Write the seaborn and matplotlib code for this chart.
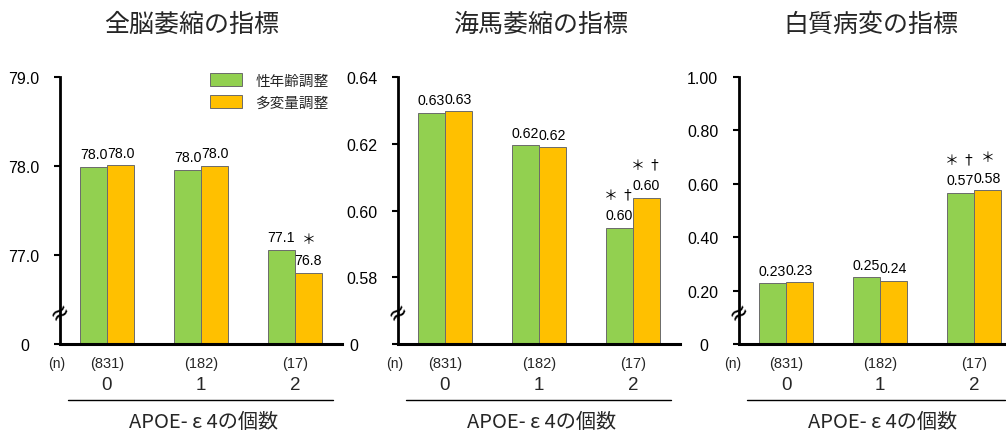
import matplotlib
matplotlib.use("Agg")
import matplotlib.pyplot as plt
import seaborn as sns
import pandas as pd
from matplotlib.lines import Line2D

sns.set_style("white")
plt.rcParams['font.family'] = ['Liberation Sans', 'Noto Sans CJK JP', 'DejaVu Sans']

# ---------------- data ----------------
groups = ["0", "1", "2"]
n_labels = ["(831)", "(182)", "(17)"]
series = ["性年齢調整", "多変量調整"]
titles = ["全脳萎縮の指標", "海馬萎縮の指標", "白質病変の指標"]
xlabel = "APOE- ε 4の個数"

brain_sex_age = [77.99, 77.96, 77.06]
brain_multi = [78.01, 78.00, 76.80]
brain_lbl_sex_age = ["78.0", "78.0", "77.1"]
brain_lbl_multi = ["78.0", "78.0", "76.8"]
brain_sig_sex_age = ["", "", ""]
brain_sig_multi = ["", "", "＊"]

hippo_sex_age = [0.6292, 0.6196, 0.5948]
hippo_multi = [0.6297, 0.6190, 0.6038]
hippo_lbl_sex_age = ["0.63", "0.62", "0.60"]
hippo_lbl_multi = ["0.63", "0.62", "0.60"]
hippo_sig_sex_age = ["", "", "＊ †"]
hippo_sig_multi = ["", "", "＊ †"]

wm_sex_age = [0.228, 0.250, 0.566]
wm_multi = [0.232, 0.237, 0.576]
wm_lbl_sex_age = ["0.23", "0.25", "0.57"]
wm_lbl_multi = ["0.23", "0.24", "0.58"]
wm_sig_sex_age = ["", "", "＊ †"]
wm_sig_multi = ["", "", "＊"]

y_ticks = [[76, 77, 78, 79], [0.56, 0.58, 0.60, 0.62, 0.64], [0, 0.2, 0.4, 0.6, 0.8, 1.0]]
y_ticklabels = [["0  ", "77.0", "78.0", "79.0"],
                ["0    ", "0.58", "0.60", "0.62", "0.64"],
                ["0  ", "0.20", "0.40", "0.60", "0.80", "1.00"]]
y_limits = [(76, 79), (0.56, 0.64), (0, 1.0)]

panels = [
    (brain_sex_age, brain_multi, brain_lbl_sex_age, brain_lbl_multi, brain_sig_sex_age, brain_sig_multi),
    (hippo_sex_age, hippo_multi, hippo_lbl_sex_age, hippo_lbl_multi, hippo_sig_sex_age, hippo_sig_multi),
    (wm_sex_age, wm_multi, wm_lbl_sex_age, wm_lbl_multi, wm_sig_sex_age, wm_sig_multi),
]

GREEN = "#92D050"
ORANGE = "#FFC000"

W, H = 1006, 431
fig = plt.figure(figsize=(W / 100, H / 100), dpi=100)

# axes pixel geometry
ax_left_px = [60, 398, 739]
ax_w_px = 282
ax_bottom_px = 345
ax_top_px = 78
title_x_px = [192, 541, 871]

for i, (a, b, la, lb, sa, sb) in enumerate(panels):
    ax = fig.add_axes([ax_left_px[i] / W, 1 - ax_bottom_px / H, ax_w_px / W,
                       (ax_bottom_px - ax_top_px) / H])
    df = pd.DataFrame({
        "group": groups * 2,
        "value": a + b,
        "adjust": [series[0]] * 3 + [series[1]] * 3,
    })
    sns.barplot(data=df, x="group", y="value", hue="adjust", order=groups,
                hue_order=series, palette=[GREEN, ORANGE], width=0.574,
                saturation=1, edgecolor="#6b6b6b", linewidth=0.7,
                errorbar=None, ax=ax, legend=(i == 0))
    ax.set_xlim(-0.5, 2.5)
    ax.set_ylim(*y_limits[i])
    ax.set_yticks(y_ticks[i])
    ax.set_yticklabels(y_ticklabels[i])
    ax.set_xticks([])
    ax.set_xlabel("")
    ax.set_ylabel("")
    for s in ["top", "right"]:
        ax.spines[s].set_visible(False)
    ax.spines["left"].set_linewidth(2.0)
    ax.spines["bottom"].set_linewidth(2.2)
    ax.spines["left"].set_color("black")
    ax.spines["bottom"].set_color("black")
    ax.tick_params(axis="y", direction="out", length=4, width=1.5,
                   pad=11, labelsize=11.5, colors="black", left=True)

    # value labels and significance marks
    off = 0.287 / 2
    for j in range(3):
        for xv, val, lab, sig in [(j - off, a[j], la[j], sa[j]), (j + off, b[j], lb[j], sb[j])]:
            ax.annotate(lab, (xv, val), xytext=(0, 4), textcoords="offset points",
                        ha="center", va="bottom", fontsize=10.2, color="black")
            if sig:
                ax.annotate(sig, (xv, val), xytext=(0, 19), textcoords="offset points",
                            ha="center", va="bottom", fontsize=10, color="black",
                            family=["Noto Sans CJK JP", "DejaVu Sans"])

    # axis break symbol
    ax.text(0, 0.12, "≈", transform=ax.transAxes, ha="center", va="center",
            fontsize=17, rotation=35, color="black", clip_on=False,
            family=["DejaVu Sans"])

    # n labels and category labels below
    tr = ax.get_xaxis_transform()
    nx = -0.54 if i < 2 else -0.57
    ax.text(nx, -0.07, "(n)", transform=tr, ha="center", va="center", fontsize=10)
    for j in range(3):
        ax.text(j, -0.07, n_labels[j], transform=tr, ha="center", va="center", fontsize=10.5)
        ax.text(j, -0.15, groups[j], transform=tr, ha="center", va="center", fontsize=13.5)

    # underline and x label
    x0 = (ax_left_px[i] + 8) / W
    x1 = min(ax_left_px[i] + 273, 1005) / W
    fig.add_artist(Line2D([x0, x1], [1 - 401 / H, 1 - 401 / H], color="black", lw=1.0))
    ax.text(0.5 + 0.01, -0.29, xlabel, transform=ax.transAxes, ha="center", va="center",
            fontsize=14.5, family=["Noto Sans CJK JP", "DejaVu Sans"])

    fig.text(title_x_px[i] / W, 1 - 25 / H, titles[i], ha="center", va="center",
             fontsize=18, family=["Noto Sans CJK JP", "DejaVu Sans"])

    if i == 0:
        handles, labels = ax.get_legend_handles_labels()
        ax.legend_.remove()
        ax.legend(handles, labels, loc="upper left",
                  bbox_to_anchor=(210 / W, 1 - 74 / H), bbox_transform=fig.transFigure,
                  frameon=False, handlelength=2.2, handleheight=1.0,
                  handletextpad=0.9, labelspacing=0.5, borderpad=0, borderaxespad=0,
                  prop={"family": ["Noto Sans CJK JP"], "size": 10.5})

fig.savefig("out.png", dpi=100)
